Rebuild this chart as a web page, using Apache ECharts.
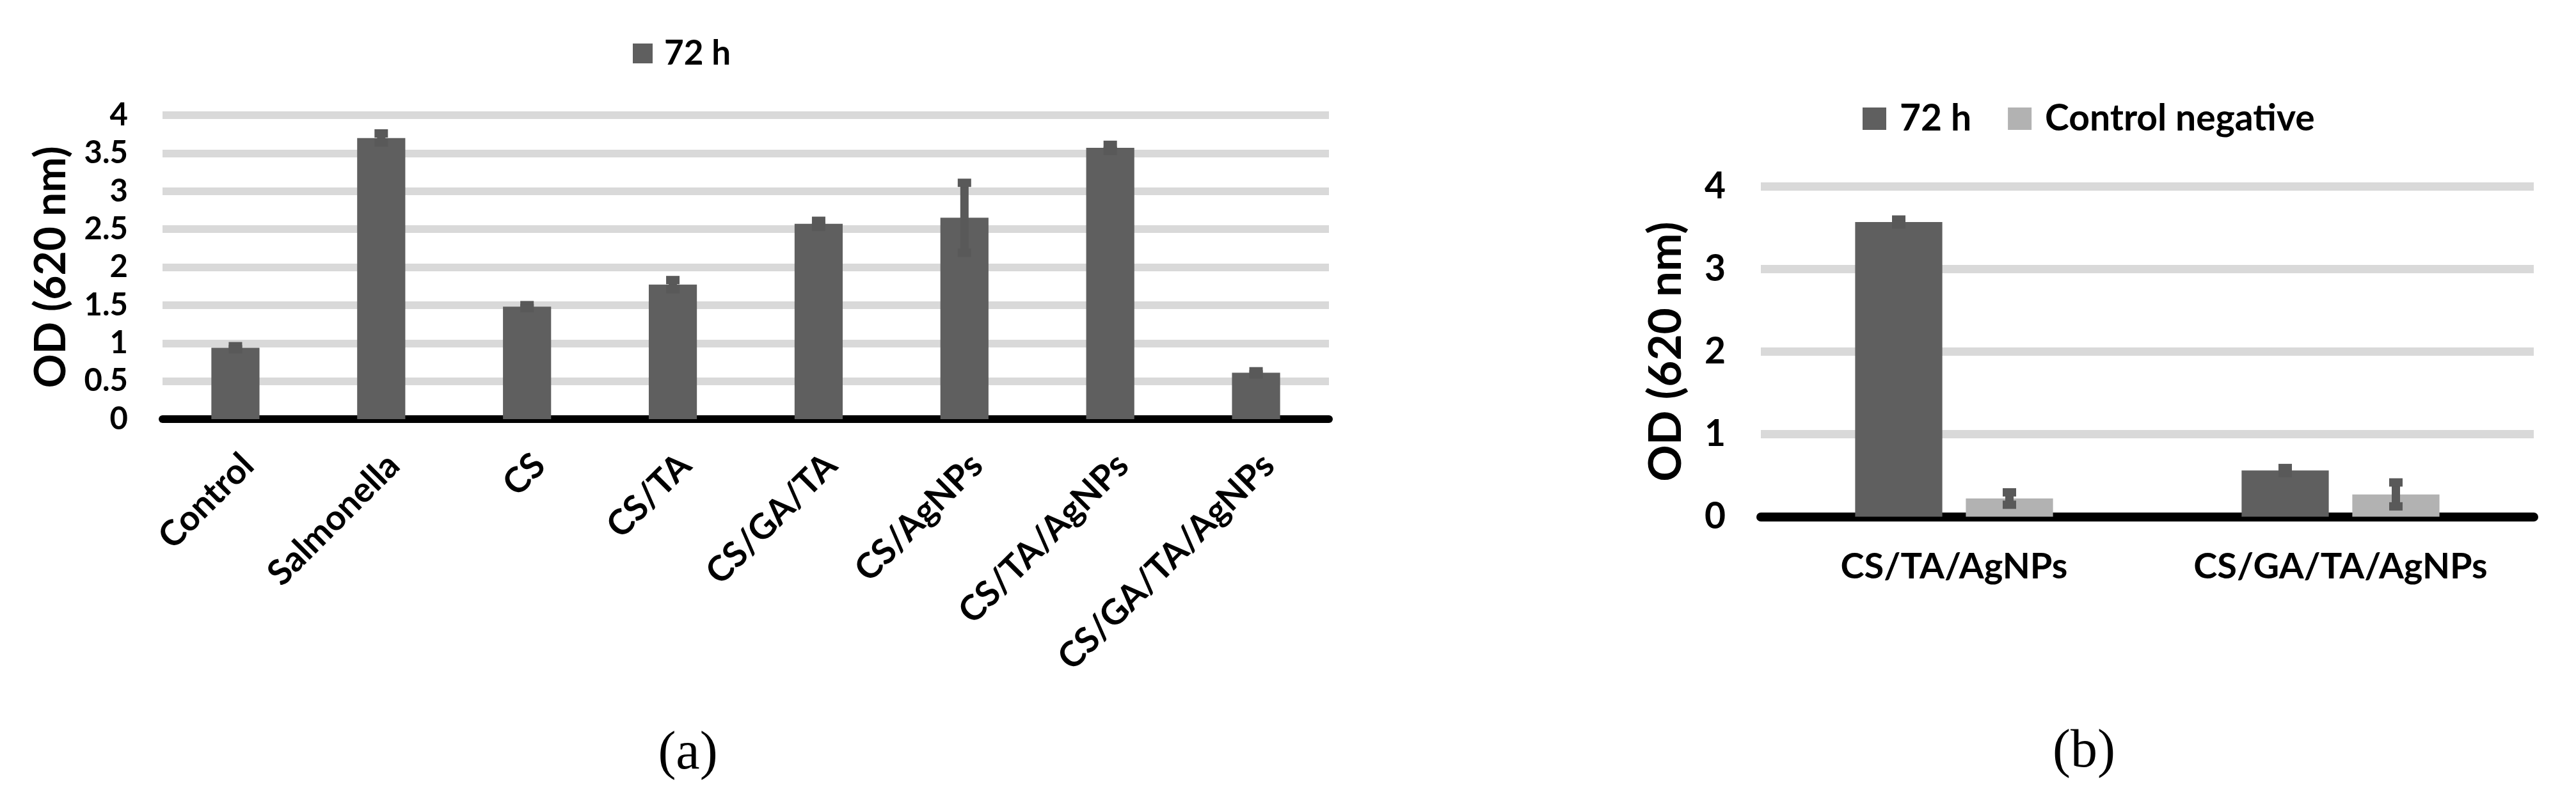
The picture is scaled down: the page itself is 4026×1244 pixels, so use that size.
<!DOCTYPE html>
<html>
<head>
<meta charset="utf-8">
<script src="https://cdn.jsdelivr.net/npm/echarts@6/dist/echarts.min.js"></script>
<style>
  html, body { margin: 0; padding: 0; background: #fff; }
  #chart { width: 4026px; height: 1244px; }
</style>
</head>
<body>
<div id="chart"></div>
<script>
// panel (a)
const categoriesA = ['Control', 'Salmonella', 'CS', 'CS/TA', 'CS/GA/TA', 'CS/AgNPs', 'CS/TA/AgNPs', 'CS/GA/TA/AgNPs'];
const values72hA = [0.94, 3.70, 1.48, 1.77, 2.57, 2.65, 3.57, 0.61];
const errors72hA = [0.02, 0.06, 0.02, 0.06, 0.04, 0.46, 0.04, 0.02];

// panel (b)
const categoriesB = ['CS/TA/AgNPs', 'CS/GA/TA/AgNPs'];
const values72hB = [3.57, 0.56];
const errors72hB = [0.03, 0.03];
const valuesNegB = [0.22, 0.27];
const errorsNegB = [0.075, 0.145];

const DARK = '#5f5f5f';
const LIGHT = '#b2b2b2';
const ERR = '#595959';
const FONT = 'Lato';

// grouped bar geometry for panel (b)
const catGapB = 0.488;
const barGapB = 0.27;
const barFracB = (1 - catGapB) / (2 + barGapB);
const offsetFracB = barFracB * (1 + barGapB) / 2;

function errorBar(offsetFrac) {
  return function (params, api) {
    const x = api.value(0);
    const mean = api.value(1);
    const err = api.value(2);
    const band = api.size([1, 0])[0];
    const top = api.coord([x, mean + err]);
    const bot = api.coord([x, mean - err]);
    const cx = top[0] + band * offsetFrac;
    return {
      type: 'group',
      children: [
        { type: 'rect', shape: { x: cx - 6.5, y: top[1], width: 13, height: bot[1] - top[1] }, style: { fill: ERR } },
        { type: 'rect', shape: { x: cx - 10.5, y: top[1] - 6.5, width: 21, height: 13 }, style: { fill: ERR } },
        { type: 'rect', shape: { x: cx - 10.5, y: bot[1] - 6.5, width: 21, height: 13 }, style: { fill: ERR } }
      ]
    };
  };
}

const boldText = (size) => ({ fontFamily: FONT, fontWeight: 'bold', fontSize: size, color: '#000' });

const chart = echarts.init(document.getElementById('chart'));

chart.setOption({
  animation: false,
  backgroundColor: '#fff',
  legend: [
    {
      data: ['72 h'],
      left: 984, top: 52,
      icon: 'rect', itemWidth: 31, itemHeight: 31,
      textStyle: Object.assign(boldText(53), { padding: [0, 0, 0, 13] })
    },
    {
      data: ['72 h', 'Control negative'],
      left: 2906, top: 152,
      icon: 'rect', itemWidth: 37, itemHeight: 35, itemGap: 57,
      textStyle: Object.assign(boldText(57), { padding: [0, 0, 0, 16] })
    }
  ],
  grid: [
    { left: 254, right: 4026 - 2077, top: 180, bottom: 1244 - 655 },
    { left: 2752, right: 4026 - 3960, top: 291.5, bottom: 1244 - 807.5 }
  ],
  xAxis: [
    {
      type: 'category', gridIndex: 0, data: categoriesA,
      axisLine: { lineStyle: { color: '#000', width: 12 } },
      axisTick: { show: false },
      axisLabel: Object.assign(boldText(55), { rotate: 45, interval: 0, margin: 44, verticalAlign: 'top' })
    },
    {
      type: 'category', gridIndex: 1, data: categoriesB,
      axisLine: { lineStyle: { color: '#000', width: 14 } },
      axisTick: { show: false },
      axisLabel: Object.assign(boldText(56), { interval: 0, margin: 50 })
    }
  ],
  yAxis: [
    {
      type: 'value', gridIndex: 0, min: 0, max: 4, interval: 0.5,
      axisLine: { show: false }, axisTick: { show: false },
      splitLine: { lineStyle: { color: '#d9d9d9', width: 12 } },
      axisLabel: Object.assign(boldText(49), { margin: 54 }),
      name: 'OD (620 nm)', nameLocation: 'middle', nameGap: 140,
      nameTextStyle: boldText(66)
    },
    {
      type: 'value', gridIndex: 1, min: 0, max: 4, interval: 1,
      axisLine: { show: false }, axisTick: { show: false },
      splitLine: { lineStyle: { color: '#d9d9d9', width: 13 } },
      axisLabel: Object.assign(boldText(57), { margin: 55 }),
      name: 'OD (620 nm)', nameLocation: 'middle', nameGap: 112,
      nameTextStyle: boldText(71)
    }
  ],
  series: [
    {
      name: '72 h', type: 'bar', xAxisIndex: 0, yAxisIndex: 0,
      data: values72hA, itemStyle: { color: DARK }, barCategoryGap: '67%'
    },
    {
      type: 'custom', xAxisIndex: 0, yAxisIndex: 0, z: 10,
      renderItem: errorBar(0), encode: { x: 0, y: 1 },
      data: values72hA.map((v, i) => [i, v, errors72hA[i]])
    },
    {
      name: '72 h', type: 'bar', xAxisIndex: 1, yAxisIndex: 1,
      data: values72hB, itemStyle: { color: DARK },
      barGap: (barGapB * 100) + '%', barCategoryGap: (catGapB * 100) + '%'
    },
    {
      name: 'Control negative', type: 'bar', xAxisIndex: 1, yAxisIndex: 1,
      data: valuesNegB, itemStyle: { color: LIGHT }
    },
    {
      type: 'custom', xAxisIndex: 1, yAxisIndex: 1, z: 10,
      renderItem: errorBar(-offsetFracB), encode: { x: 0, y: 1 },
      data: values72hB.map((v, i) => [i, v, errors72hB[i]])
    },
    {
      type: 'custom', xAxisIndex: 1, yAxisIndex: 1, z: 10,
      renderItem: errorBar(offsetFracB), encode: { x: 0, y: 1 },
      data: valuesNegB.map((v, i) => [i, v, errorsNegB[i]])
    }
  ],
  graphic: [
    {
      type: 'text', x: 1075, y: 1179,
      style: { text: '(a)', align: 'center', verticalAlign: 'middle', fontSize: 84, fontFamily: 'Liberation Serif', fill: '#000' }
    },
    {
      type: 'text', x: 3257, y: 1176,
      style: { text: '(b)', align: 'center', verticalAlign: 'middle', fontSize: 84, fontFamily: 'Liberation Serif', fill: '#000' }
    }
  ]
});
</script>
</body>
</html>
